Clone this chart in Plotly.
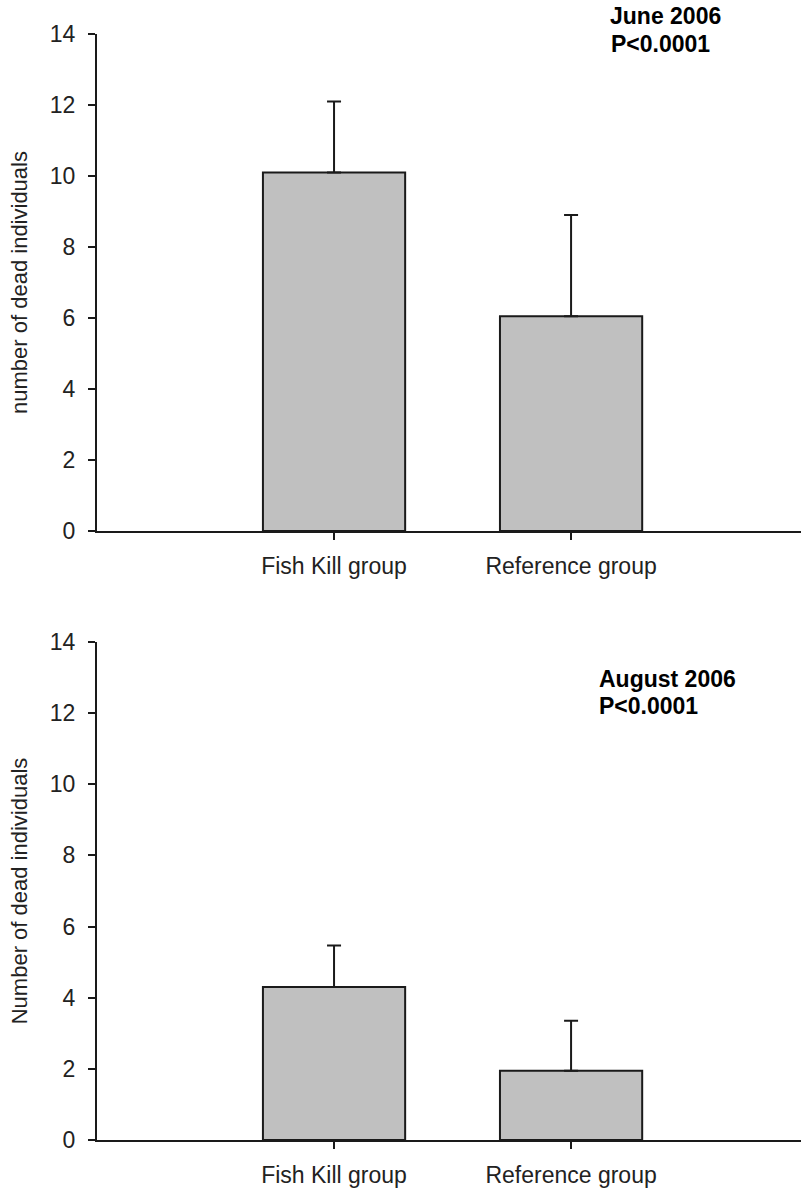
import plotly.graph_objects as go

# Two panels: mean number of dead individuals per group, with upper SE bars
groups = ["Fish Kill group", "Reference group"]

june_means = [10.1, 6.05]
june_err = [2.0, 2.85]

august_means = [4.3, 1.95]
august_err = [1.17, 1.4]

y_ticks = [0, 2, 4, 6, 8, 10, 12, 14]

FONT = "Liberation Sans, Arial, sans-serif"
BAR_FILL = "#c0c0c0"
INK = "#1a1a1a"
W, H = 801, 1188

fig = go.Figure()


def add_panel(means, errs, xa, ya):
    fig.add_trace(go.Bar(
        x=groups, y=means, xaxis=xa, yaxis=ya, width=0.6,
        marker=dict(color=BAR_FILL, line=dict(color=INK, width=2)),
        error_y=dict(type="data", symmetric=False, array=errs,
                     arrayminus=[0] * len(errs), color=INK,
                     thickness=2, width=7),
        showlegend=False, hoverinfo="skip",
    ))


add_panel(june_means, june_err, "x", "y")
add_panel(august_means, august_err, "x2", "y2")


def paper_y(px):
    return 1 - px / H


x_dom = [97 / W, 1.0]
top_dom = [paper_y(531), paper_y(34)]
bot_dom = [paper_y(1140), paper_y(642)]

xcommon = dict(
    domain=x_dom, range=[-1, 1.97], type="category", automargin=False,
    showline=True, linecolor=INK, linewidth=2,
    ticks="outside", ticklen=7, tickwidth=2, tickcolor=INK,
    showgrid=False, zeroline=False,
    tickfont=dict(family=FONT, size=23, color="#222"),
    ticklabelstandoff=6,
)
ycommon = dict(
    range=[0, 14], tickvals=y_ticks, automargin=False,
    showline=True, linecolor=INK, linewidth=2,
    ticks="outside", ticklen=7, tickwidth=2, tickcolor=INK,
    showgrid=False, zeroline=False,
    tickfont=dict(family=FONT, size=23, color="#222"),
    ticklabelstandoff=8,
)

fig.update_layout(
    width=W, height=H,
    margin=dict(l=0, r=0, t=0, b=0, autoexpand=False),
    paper_bgcolor="white", plot_bgcolor="white",
    xaxis=dict(**xcommon, anchor="y"),
    yaxis=dict(**ycommon, domain=top_dom, anchor="x",
               title=dict(text="number of dead individuals",
                          font=dict(family=FONT, size=22, color="#222"),
                          standoff=16)),
    xaxis2=dict(**xcommon, anchor="y2"),
    yaxis2=dict(**ycommon, domain=bot_dom, anchor="x2",
                title=dict(text="Number of dead individuals",
                           font=dict(family=FONT, size=22, color="#222"),
                           standoff=16)),
    bargap=0.4,
)

labels = [
    ("<b>June 2006</b>", 608, 16),
    ("<b>P&lt;0.0001</b>", 609, 43.5),
    ("<b>August 2006</b>", 597, 679),
    ("<b>P&lt;0.0001</b>", 597, 705.5),
]
for text, px, py in labels:
    fig.add_annotation(
        text=text, xref="paper", yref="paper",
        x=px / W, y=paper_y(py), xanchor="left", yanchor="middle",
        showarrow=False,
        font=dict(family=FONT, size=23, color="black"),
    )

fig.write_html("out.html")
